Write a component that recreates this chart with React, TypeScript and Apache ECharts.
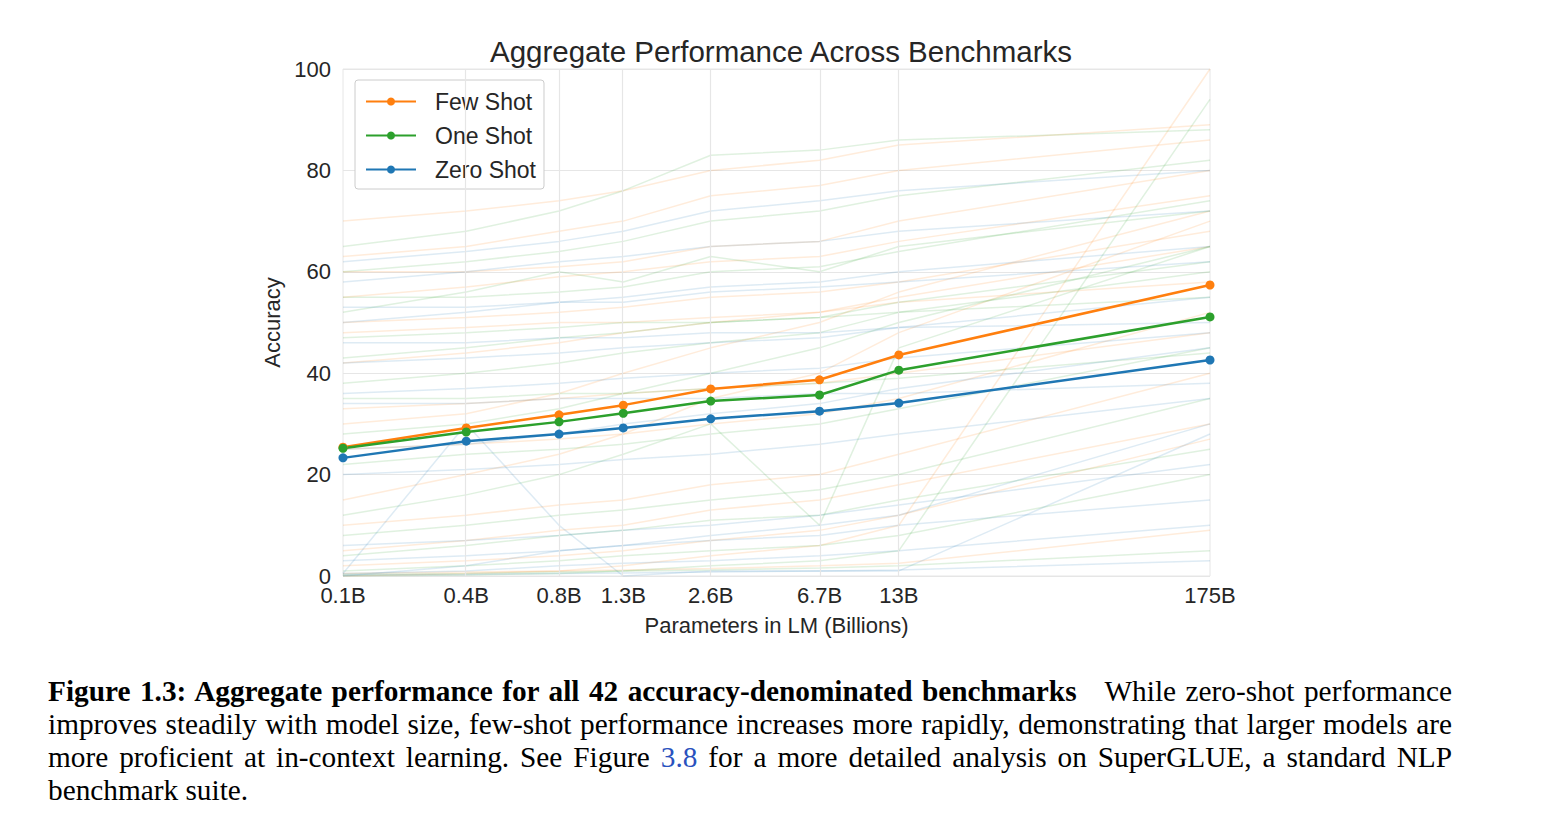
import React, { useEffect, useRef } from "react";
import * as echarts from "echarts";

const params = [0.125, 0.35, 0.76, 1.3, 2.7, 6.7, 13, 175];
const tickLabels = ["0.1B", "0.4B", "0.8B", "1.3B", "2.6B", "6.7B", "13B", "175B"];
const fewShot = [25.4, 29.2, 31.8, 33.7, 36.9, 38.7, 43.6, 57.4];
const oneShot = [25.2, 28.4, 30.4, 32.1, 34.5, 35.7, 40.6, 51.1];
const zeroShot = [23.3, 26.6, 28.0, 29.2, 31.0, 32.5, 34.1, 42.6];

const bgFew = [
  [0.5, 0.8, 1.0, 1.2, 1.5, 2.0, 2.5, 9.0],
  [2, 3, 4, 5, 7, 9, 12, 27],
  [5, 7, 9, 10, 13, 15, 18, 30],
  [10, 12, 14, 15, 18, 20, 24, 40],
  [25, 26, 27, 28, 30, 32, 35, 52],
  [33, 34, 35, 36, 37, 38, 40, 48],
  [42, 44, 46, 48, 50, 52, 55, 65],
  [50, 51, 52, 53, 55, 56, 58, 68],
  [55, 57, 59, 60, 62, 63, 66, 75],
  [63, 65, 68, 70, 75, 77, 80, 86],
  [70, 72, 74, 76, 80, 82, 85, 89],
  [60, 60, 61, 62, 65, 66, 70, 80],
  [30, 32, 36, 40, 45, 50, 56, 72],
  [15, 20, 24, 28, 35, 40, 48, 70],
  [0, 0.5, 1, 2, 4, 6, 10, 100],
  [48, 49, 50, 50, 51, 52, 54, 58],
];
const bgOne = [
  [0.3, 0.5, 0.8, 1.0, 1.2, 1.6, 2.0, 5.0],
  [1, 2, 3, 4, 5, 6, 8, 20],
  [4, 6, 8, 9, 11, 12, 15, 25],
  [8, 10, 12, 13, 15, 17, 20, 35],
  [22, 24, 25, 26, 28, 30, 33, 45],
  [35, 35, 36, 36, 37, 38, 39, 44],
  [43, 45, 47, 48, 50, 51, 54, 62],
  [52, 56, 60, 58, 63, 60, 65, 72],
  [60, 62, 64, 66, 70, 72, 75, 82],
  [65, 68, 72, 76, 83, 84, 86, 88],
  [55, 55, 56, 57, 60, 61, 64, 74],
  [28, 30, 33, 36, 40, 45, 50, 65],
  [12, 16, 20, 24, 30, 10, 45, 65],
  [0, 0.2, 0.5, 1, 2, 3, 5, 94],
  [47, 48, 49, 50, 50, 51, 52, 55],
  [38, 40, 42, 44, 46, 48, 52, 60],
];
const bgZero = [
  [0.2, 0.3, 0.5, 0.6, 0.8, 1.0, 1.2, 3.0],
  [0.5, 1, 2, 2.5, 3, 4, 5, 10],
  [3, 4, 5, 6, 7, 8, 10, 15],
  [6, 7, 8, 9, 10, 12, 14, 22],
  [20, 21, 22, 23, 24, 26, 28, 35],
  [34, 34, 35, 35, 35, 36, 36, 38],
  [42, 43, 44, 45, 46, 47, 49, 55],
  [50, 52, 54, 55, 57, 58, 60, 65],
  [58, 60, 62, 63, 65, 66, 68, 72],
  [62, 64, 66, 68, 72, 74, 76, 80],
  [53, 53, 54, 54, 56, 57, 58, 62],
  [25, 26, 28, 30, 32, 34, 37, 45],
  [0, 2, 5, 6, 8, 10, 12, 30],
  [0.5, 30, 10, 0, 1, 1, 1, 28],
  [46, 46, 47, 47, 48, 48, 49, 50],
  [36, 37, 38, 39, 40, 41, 43, 48],
];

const lg = (v: number) => Math.log10(v);
const pts = (arr: number[]) => arr.map((y, i) => [lg(params[i]), y]);

export default function App() {
  const ref = useRef<HTMLDivElement>(null);
  useEffect(() => {
    const chart = echarts.init(ref.current!, undefined, { renderer: "svg" });
    const font = "Liberation Sans";
    const bg = (sets: number[][], color: string) =>
      sets.map((s) => ({
        type: "line",
        data: pts(s),
        showSymbol: false,
        silent: true,
        lineStyle: { color, width: 1.5, opacity: 0.15 },
        z: 1,
      }));
    const main = (name: string, data: number[], color: string) => ({
      name,
      type: "line",
      data: pts(data),
      symbol: "circle",
      symbolSize: 9,
      itemStyle: { color },
      lineStyle: { color, width: 2.5 },
      z: 5,
    });
    chart.setOption({
      animation: false,
      title: {
        text: "Aggregate Performance Across Benchmarks",
        left: 768,
        top: 23,
        textAlign: "center",
        textStyle: { fontFamily: font, fontSize: 29.5, fontWeight: "normal", color: "#262626" },
      },
      legend: {
        data: ["Few Shot", "One Shot", "Zero Shot"],
        orient: "vertical",
        left: 347,
        top: 72,
        itemWidth: 50,
        itemHeight: 10,
        itemGap: 11,
        padding: [10, 8, 8, 10],
        backgroundColor: "#fff",
        borderColor: "#ccc",
        borderWidth: 1,
        borderRadius: 3,
        textStyle: { fontFamily: font, fontSize: 23, color: "#262626", padding: [0, 0, 0, 14] },
      },
      grid: { left: 335, top: 61, right: 329, bottom: 82, show: true, borderColor: "#e6e6e6", borderWidth: 1 },
      xAxis: {
        type: "value",
        min: lg(0.125),
        max: lg(175),
        name: "Parameters in LM (Billions)",
        nameLocation: "middle",
        nameGap: 38,
        nameTextStyle: { fontFamily: font, fontSize: 22, color: "#262626" },
        axisLine: { show: false },
        axisTick: { show: false },
        splitLine: { show: false },
        axisLabel: {
          customValues: params.map(lg),
          formatter: (v: number) => {
            const i = params.findIndex((p) => Math.abs(lg(p) - v) < 1e-6);
            return i >= 0 ? tickLabels[i] : "";
          },
          fontFamily: font,
          fontSize: 22,
          color: "#262626",
          margin: 8,
        },
      },
      yAxis: {
        type: "value",
        min: 0,
        max: 100,
        interval: 20,
        name: "Accuracy",
        nameLocation: "middle",
        nameGap: 57,
        nameTextStyle: { fontFamily: font, fontSize: 22, color: "#262626" },
        axisLine: { show: false },
        axisTick: { show: false },
        splitLine: { lineStyle: { color: "#e6e6e6", width: 1.2 } },
        axisLabel: { fontFamily: font, fontSize: 22, color: "#262626", margin: 12 },
      },
      series: [
        {
          type: "line",
          data: [],
          silent: true,
          markLine: {
            silent: true,
            symbol: "none",
            label: { show: false },
            lineStyle: { color: "#e6e6e6", type: "solid", width: 1.2 },
            data: params.slice(1, 7).map((p) => ({ xAxis: lg(p) })),
          },
        },
        ...bg(bgFew, "#ff7f0e"),
        ...bg(bgOne, "#2ca02c"),
        ...bg(bgZero, "#1f77b4"),
        main("Few Shot", fewShot, "#ff7f0e"),
        main("One Shot", oneShot, "#2ca02c"),
        main("Zero Shot", zeroShot, "#1f77b4"),
      ],
    });
    return () => chart.dispose();
  }, []);
  return (
    <div>
      <div ref={ref} style={{ width: 1531, height: 650 }} />
      <div
        style={{
          fontFamily: "Liberation Serif",
          fontSize: 29.3,
          lineHeight: "33px",
          marginLeft: 40,
          marginTop: 17,
          width: 1404,
          textAlign: "justify",
          color: "#000",
        }}
      >
        <b>Figure 1.3: Aggregate performance for all 42 accuracy-denominated benchmarks</b>
        &nbsp;&nbsp; While zero-shot performance improves steadily with model size, few-shot performance
        increases more rapidly, demonstrating that larger models are more proficient at in-context learning.
        See Figure <span style={{ color: "#2a52be" }}>3.8</span> for a more detailed analysis on SuperGLUE, a
        standard NLP benchmark suite.
      </div>
    </div>
  );
}
